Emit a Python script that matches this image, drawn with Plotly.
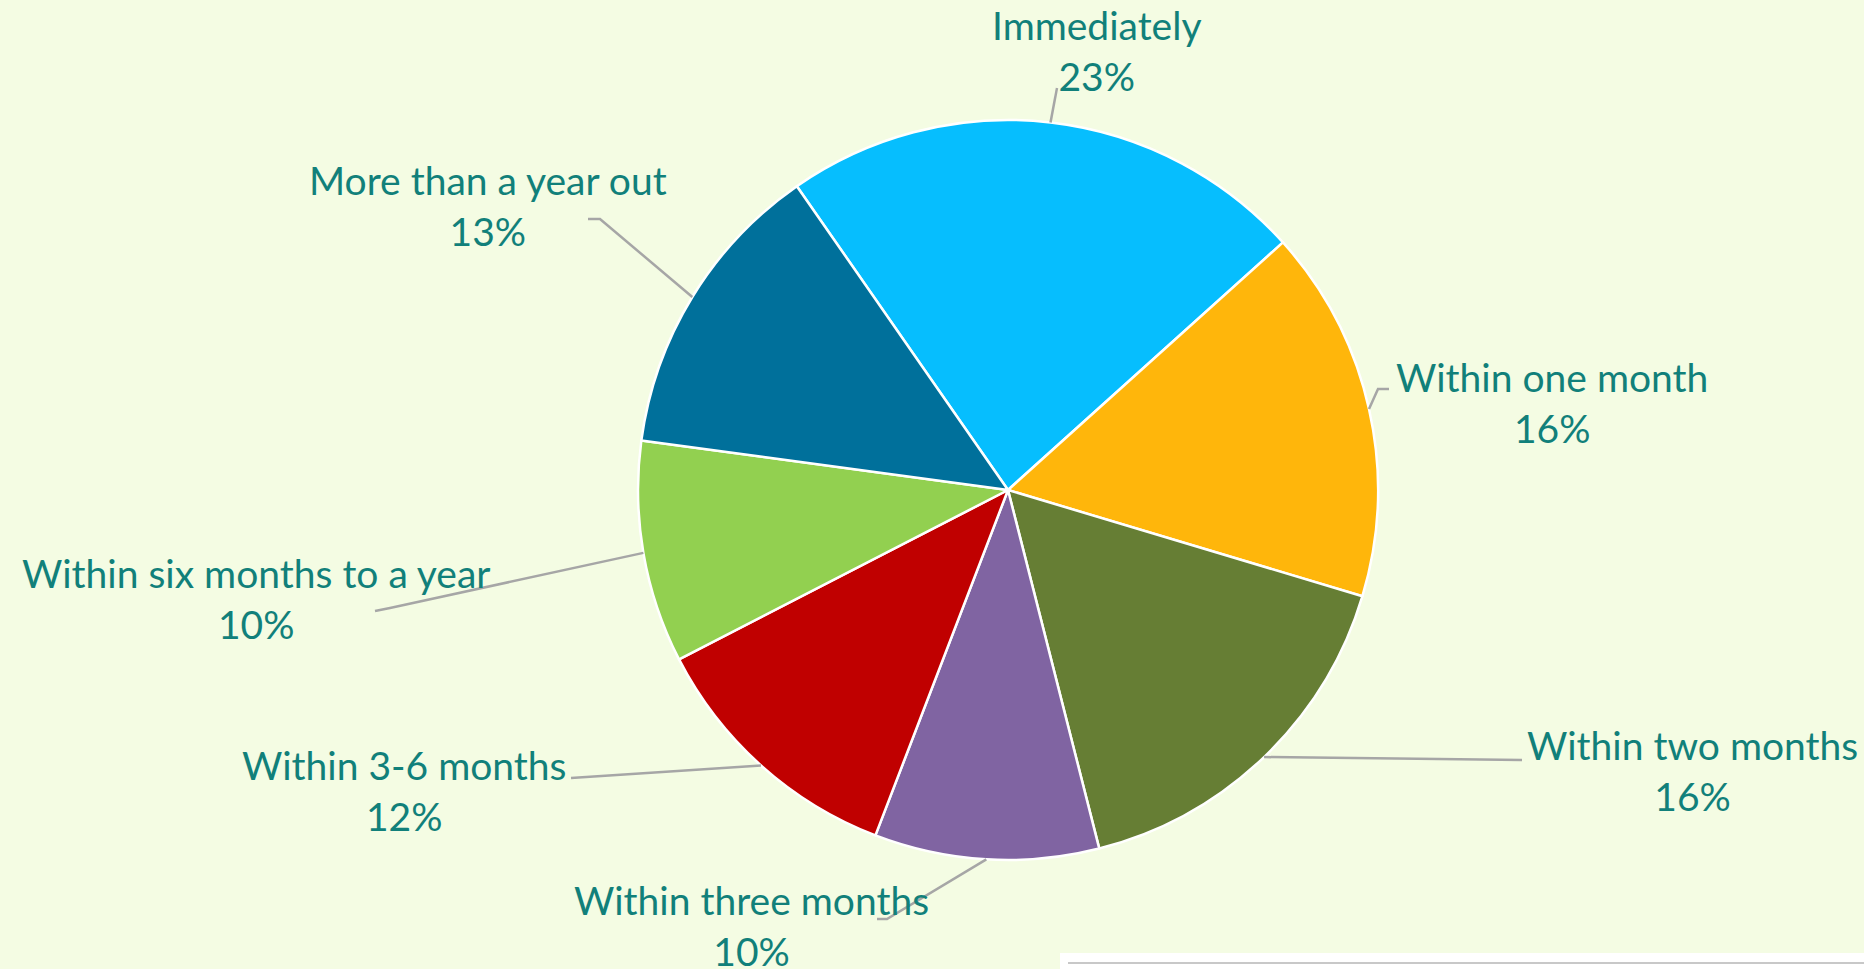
import math
import plotly.graph_objects as go

# ---- data ----
labels = ["Immediately", "Within one month", "Within two months", "Within three months",
          "Within 3-6 months", "Within six months to a year", "More than a year out"]
values = [23.0, 16.3, 16.4, 9.8, 11.6, 9.7, 13.2]
colors = ["#06BEFE", "#FFB60B", "#667E34", "#8064A2", "#C00000", "#92D050", "#00709B"]

# ---- layout (pixel positions) ----
W, H = 1864, 969
CX, CY, R = 1008, 490, 370
ROT = -34.8
BG = "#F4FCE3"
TXT = "#11807A"
LINE = "#A6A6A6"

# label text centers
label_pos = [(1097, 50), (1552, 402), (1692, 770), (751, 925), (404, 790), (256, 598), (488, 206)]
# leader line points on the label side (ordered from label toward pie)
leader_pts = [
    [(1057, 88)],
    [(1389, 389), (1378, 389)],
    [(1522, 760)],
    [(877, 919), (887, 919)],
    [(571, 778)],
    [(375, 611), (390, 608)],
    [(588, 219), (600, 219)],
]


def px(x):
    return x / W


def py(y):
    return 1 - y / H


fig = go.Figure(go.Pie(
    labels=labels, values=values, sort=False, direction="clockwise", rotation=ROT,
    marker=dict(colors=colors, line=dict(color="white", width=2.5)),
    textinfo="none", hoverinfo="label+percent", showlegend=False,
    domain=dict(x=[px(CX - R), px(CX + R)], y=[py(CY + R), py(CY - R)]),
))

total = sum(values)
shapes = []
annotations = []
cum = 0.0
for lab, v, lp, pts in zip(labels, values, label_pos, leader_pts):
    mid = ROT + (cum + v / 2) / total * 360
    cum += v
    a = math.radians(mid)
    ex, ey = CX + R * math.sin(a), CY - R * math.cos(a)
    path_pts = pts + [(ex, ey)]
    d = "M " + " L ".join(f"{px(x)},{py(y)}" for x, y in path_pts)
    shapes.append(dict(type="path", xref="paper", yref="paper", path=d,
                       line=dict(color=LINE, width=2.5)))
    pct = round(v / total * 100)
    annotations.append(dict(x=px(lp[0]), y=py(lp[1]), xref="paper", yref="paper",
                            text=f"{lab}<br>{pct}%", showarrow=False,
                            xanchor="center", yanchor="middle", align="center",
                            font=dict(family="Lato", size=39, color=TXT)))

# bottom-right strip artefact
shapes.append(dict(type="rect", xref="paper", yref="paper", x0=px(1060), x1=1, y0=0, y1=py(953),
                   fillcolor="white", line=dict(width=0), layer="below"))
shapes.append(dict(type="line", xref="paper", yref="paper", x0=px(1068), x1=1, y0=py(963), y1=py(963),
                   line=dict(color="#C8C8C8", width=2)))

fig.update_layout(
    width=W, height=H, margin=dict(l=0, r=0, t=0, b=0),
    paper_bgcolor=BG, plot_bgcolor=BG,
    shapes=shapes, annotations=annotations,
)

fig.write_html("out.html", config={"displayModeBar": False},
               post_script="document.body.style.margin='0';document.body.style.overflow='hidden';")
